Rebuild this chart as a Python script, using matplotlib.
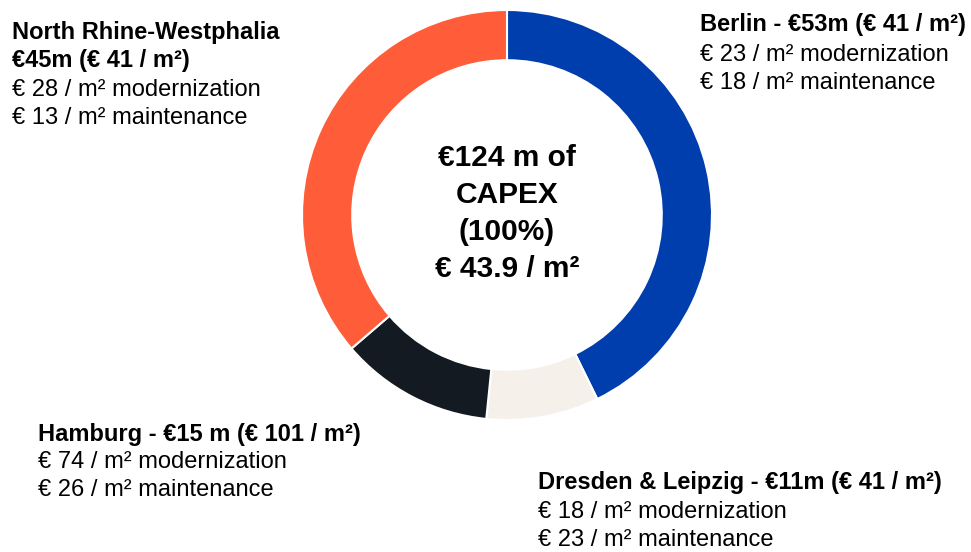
import matplotlib
matplotlib.use("Agg")
from matplotlib import pyplot as plt

plt.rcParams['font.family'] = ['Liberation Sans', 'DejaVu Sans']

# segments, clockwise from 12 o'clock
regions = ["Berlin", "Dresden & Leipzig", "Hamburg", "North Rhine-Westphalia"]
capex = [53, 11, 15, 45]
colors = ["#003DAD", "#F5F0EA", "#131A22", "#FF5C39"]

center_lines = ["€124 m of", "CAPEX", "(100%)", "€ 43.9 / m²"]

# label blocks: (x px, line centre y px, lines)
labels = [
    (700, [25, 55, 83], ["Berlin - €53m (€ 41 / m²)",
                         "€ 23 / m² modernization",
                         "€ 18 / m² maintenance"]),
    (538, [483, 512, 540], ["Dresden & Leipzig - €11m (€ 41 / m²)",
                            "€ 18 / m² modernization",
                            "€ 23 / m² maintenance"]),
    (38, [434, 462, 490], ["Hamburg - €15 m (€ 101 / m²)",
                           "€ 74 / m² modernization",
                           "€ 26 / m² maintenance"]),
    (12, [32, 61, 90, 118], ["North Rhine-Westphalia",
                             "€45m (€ 41 / m²)",
                             "€ 28 / m² modernization",
                             "€ 13 / m² maintenance"]),
]
bold_count = [1, 1, 1, 2]

W, H = 971, 552
fig = plt.figure(figsize=(W / 100, H / 100), dpi=100)

cx, cy, r = 507, 215, 205
ax = fig.add_axes([(cx - r) / W, (H - cy - r) / H, 2 * r / W, 2 * r / H])
ax.pie(capex, colors=colors, startangle=90, counterclock=False, radius=1,
       wedgeprops=dict(width=0.245, edgecolor="white", linewidth=1.5))
ax.set_xlim(-1, 1)
ax.set_ylim(-1, 1)
ax.set_aspect('equal')
ax.axis('off')

for i, line in enumerate(center_lines):
    fig.text(cx / W, 1 - (158 + i * 37) / H, line, ha='center', va='center',
             fontsize=21.5, fontweight='bold', color='black')

for (x, ys, lines), nb in zip(labels, bold_count):
    for j, (y, line) in enumerate(zip(ys, lines)):
        fig.text(x / W, 1 - y / H, line, ha='left', va='center', fontsize=17,
                 fontweight='bold' if j < nb else 'normal', color='black')

fig.savefig("out.png", dpi=100)
